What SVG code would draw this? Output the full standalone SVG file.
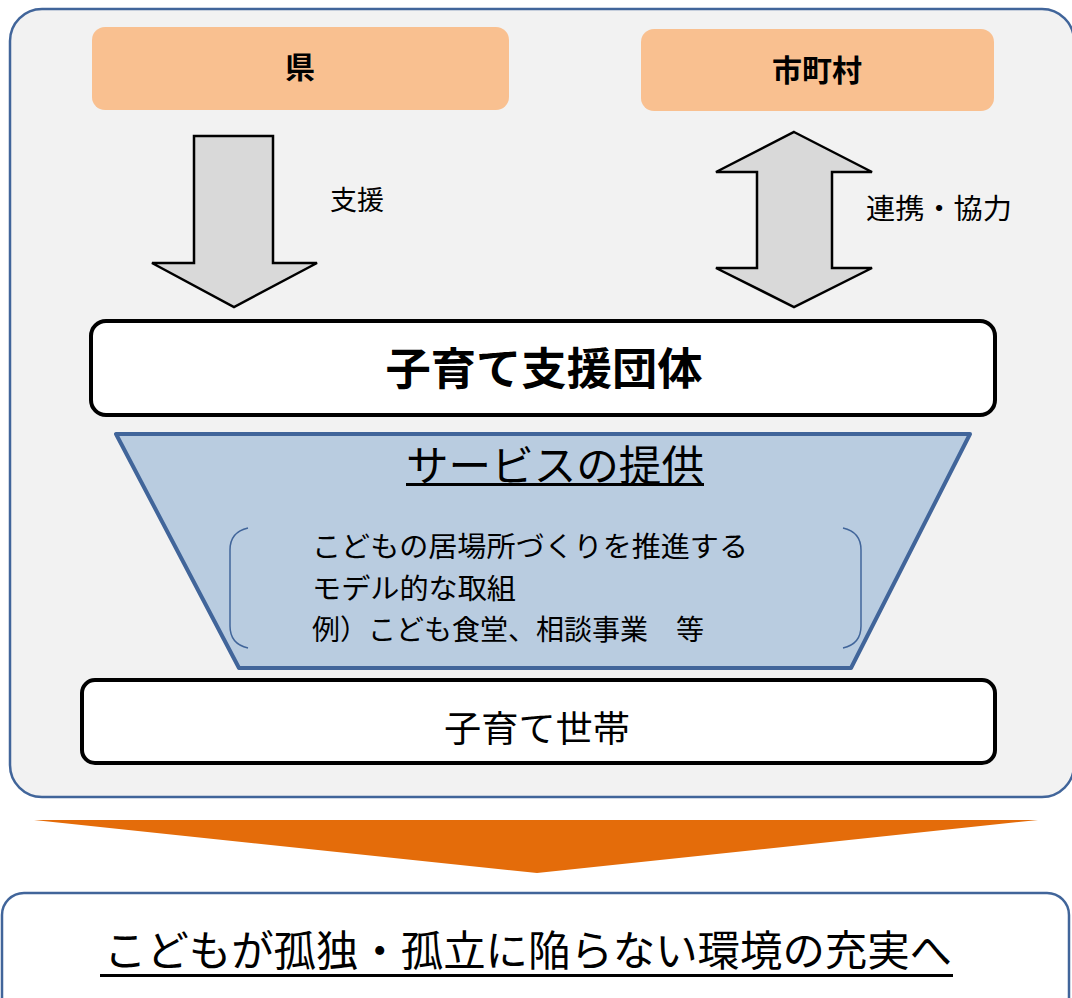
<svg xmlns="http://www.w3.org/2000/svg" width="1072" height="998" viewBox="0 0 1072 998">
<defs>
<style>
text{font-family:"Noto Sans CJK JP","Noto Sans CJK SC",sans-serif;fill:#000}
.b{font-weight:bold}
.org{fill:#f9c090}
.arr{fill:#d9d9d9;stroke:#000;stroke-width:2.5;stroke-linejoin:miter}
.wbox{fill:#fff;stroke:#000;stroke-width:4}
.blue{stroke:#41659a}
</style>
</defs>
<rect id="container" x="10" y="9" width="1064" height="788" rx="32" fill="#f2f2f2" stroke="#41659a" stroke-width="2.5"/>
<g id="ken">
<rect class="org" x="92" y="27" width="417" height="83" rx="13"/>
<text class="b" x="300" y="78" font-size="30" text-anchor="middle">県</text>
</g>
<g id="shichoson">
<rect class="org" x="641" y="29" width="353" height="82" rx="13"/>
<text class="b" x="817" y="81" font-size="30" text-anchor="middle">市町村</text>
</g>
<g id="connectors">
<polygon class="arr" points="194,136 273,136 273,263 317,263 234,307 152,263 194,263"/>
<text x="330" y="210" font-size="27">支援</text>
<polygon class="arr" points="794,132 872,172 832,172 832,268 872,268 794,307 716,268 757,268 757,172 716,172"/>
<text x="866" y="219" font-size="28" textLength="146" lengthAdjust="spacingAndGlyphs">連携・協力</text>
<polygon points="34,820 1038,820 537,873" fill="#e46c0a"/>
</g>
<g id="shien-dantai">
<rect class="wbox" x="91" y="321" width="904" height="94" rx="15"/>
<text class="b" x="544" y="385" font-size="44" text-anchor="middle" textLength="317" lengthAdjust="spacingAndGlyphs">子育て支援団体</text>
</g>
<g id="service">
<polygon points="116,434 970,434 851,668 239,668" fill="#b9cce0" stroke="#41659a" stroke-width="4" stroke-linejoin="round"/>
<text x="406" y="481" font-size="42" textLength="298" lengthAdjust="spacingAndGlyphs">サービスの提供</text>
<rect x="406" y="483" width="298" height="3"/>
<path d="M248,528 Q230,532 230,550 L230,626 Q230,644 248,648" fill="none" stroke="#41659a" stroke-width="1.5"/>
<path d="M843,528 Q861,532 861,550 L861,626 Q861,644 843,648" fill="none" stroke="#41659a" stroke-width="1.5"/>
<text x="312" y="557" font-size="28" textLength="436" lengthAdjust="spacingAndGlyphs">こどもの居場所づくりを推進する</text>
<text x="312" y="599" font-size="28" textLength="204" lengthAdjust="spacingAndGlyphs">モデル的な取組</text>
<text x="312" y="640" font-size="28" textLength="392" lengthAdjust="spacingAndGlyphs">例）こども食堂、相談事業　等</text>
</g>
<g id="setai">
<rect class="wbox" x="82" y="680" width="913" height="83" rx="13"/>
<text x="537" y="742" font-size="36" text-anchor="middle" textLength="186" lengthAdjust="spacingAndGlyphs">子育て世帯</text>
</g>
<g id="goal">
<rect x="2" y="893" width="1067" height="130" rx="22" fill="#fff" stroke="#41659a" stroke-width="2.5"/>
<text x="104" y="966" font-size="42" textLength="848" lengthAdjust="spacingAndGlyphs">こどもが孤独・孤立に陥らない環境の充実へ</text>
<rect x="100" y="974" width="853" height="3"/>
</g>
</svg>
